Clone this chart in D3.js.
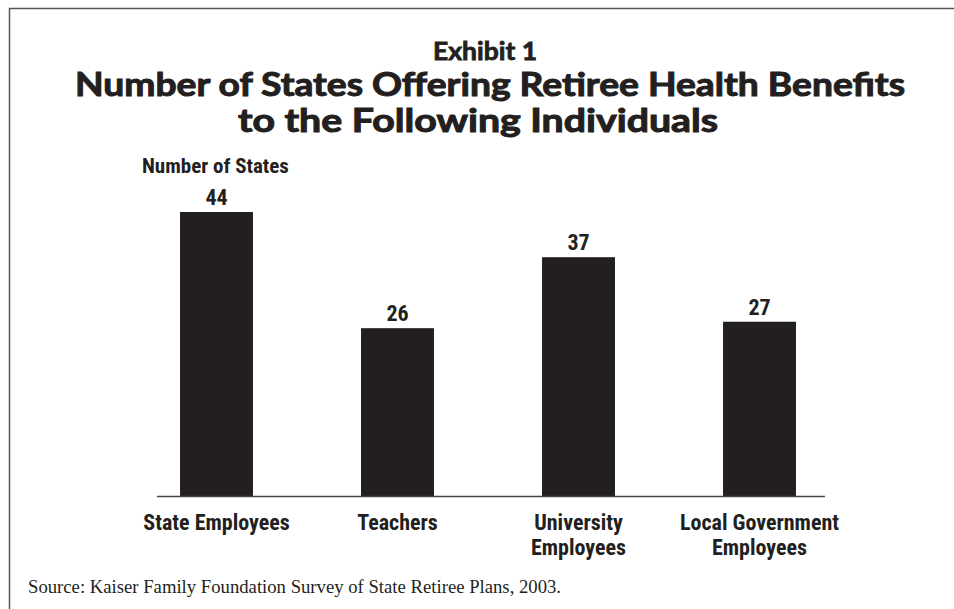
<!DOCTYPE html>
<html>
<head>
<meta charset="utf-8">
<script src="https://cdn.jsdelivr.net/npm/d3@7"></script>
<style>
  html, body { margin: 0; padding: 0; background: #fff; }
  svg { display: block; }
</style>
</head>
<body>
<svg id="chart" width="954" height="609"></svg>
<script>
// Exhibit data: states offering retiree health benefits, by group
const categories = [
  ["State Employees"],
  ["Teachers"],
  ["University", "Employees"],
  ["Local Government", "Employees"]
];
const values = [44, 26, 37, 27];

const titleLines = [
  "Number of States Offering Retiree Health Benefits",
  "to the Following Individuals"
];
const exhibitLabel = "Exhibit 1";
const yLabel = "Number of States";
const sourceNote = "Source: Kaiser Family Foundation Survey of State Retiree Plans, 2003.";

const svg = d3.select("#chart");
const W = 954, H = 609;
const ink = "#231f20";
const condensed = "'Liberation Sans Narrow', 'Arial Narrow', 'Roboto Condensed', sans-serif";
const heavy = "Lato, 'DejaVu Sans', sans-serif";

// frame
svg.append("path")
  .attr("d", `M9.5,${H} V8.5 H${W}`)
  .attr("fill", "none")
  .attr("stroke", "#555")
  .attr("stroke-width", 1.5);

// titles (widened heavy face)
svg.append("text")
  .attr("x", 485).attr("y", 60)
  .attr("text-anchor", "middle")
  .attr("font-family", heavy).attr("font-weight", 700)
  .attr("font-size", 25).attr("fill", ink)
  .attr("stroke", ink).attr("stroke-width", 0.8)
  .attr("textLength", 104).attr("lengthAdjust", "spacingAndGlyphs")
  .text(exhibitLabel);

const titleWidths = [830, 480];
const titleCenters = [490, 478];
svg.selectAll("text.title")
  .data(titleLines)
  .join("text")
  .attr("class", "title")
  .attr("x", (d, i) => titleCenters[i])
  .attr("y", (d, i) => 96 + i * 36)
  .attr("text-anchor", "middle")
  .attr("font-family", heavy).attr("font-weight", 700)
  .attr("font-size", 32).attr("fill", ink)
  .attr("stroke", ink).attr("stroke-width", 1)
  .attr("textLength", (d, i) => titleWidths[i])
  .attr("lengthAdjust", "spacingAndGlyphs")
  .text(d => d);

// scales
const baseY = 496;
const x = d3.scaleBand()
  .domain(d3.range(categories.length))
  .range([126, 850])
  .paddingInner(0.597)
  .paddingOuter(0.2985);

const y = d3.scaleLinear()
  .domain([0, 44])
  .range([baseY, 212]);

// y-axis caption
svg.append("text")
  .attr("x", 142).attr("y", 173)
  .attr("font-family", condensed).attr("font-weight", 700)
  .attr("font-size", 21).attr("fill", ink)
  .text(yLabel);

// bars
svg.selectAll("rect.bar")
  .data(values)
  .join("rect")
  .attr("class", "bar")
  .attr("x", (d, i) => x(i))
  .attr("y", d => y(d))
  .attr("width", x.bandwidth())
  .attr("height", d => baseY - y(d))
  .attr("fill", ink);

// value labels
svg.selectAll("text.val")
  .data(values)
  .join("text")
  .attr("class", "val")
  .attr("x", (d, i) => x(i) + x.bandwidth() / 2)
  .attr("y", d => y(d) - 7)
  .attr("text-anchor", "middle")
  .attr("font-family", condensed).attr("font-weight", 700)
  .attr("font-size", 22).attr("fill", ink)
  .text(d => d);

// baseline axis
const axis = d3.axisBottom(x).tickSize(0).tickFormat("");
const gAxis = svg.append("g")
  .attr("transform", `translate(0,${baseY})`)
  .call(axis);
gAxis.select(".domain")
  .attr("d", `M157,0.5H825`)
  .attr("stroke", "#444")
  .attr("stroke-width", 1.5);

// category labels
const catG = svg.selectAll("text.cat")
  .data(categories)
  .join("text")
  .attr("class", "cat")
  .attr("text-anchor", "middle")
  .attr("font-family", condensed).attr("font-weight", 700)
  .attr("font-size", 22).attr("fill", ink);
catG.each(function (lines, i) {
  d3.select(this).selectAll("tspan")
    .data(lines)
    .join("tspan")
    .attr("x", x(i) + x.bandwidth() / 2)
    .attr("y", (d, j) => 530 + j * 25)
    .text(d => d);
});

// source note
svg.append("text")
  .attr("x", 28).attr("y", 593)
  .attr("font-family", "'Liberation Serif', 'Times New Roman', serif")
  .attr("font-size", 18.7).attr("fill", ink)
  .text(sourceNote);
</script>
</body>
</html>
